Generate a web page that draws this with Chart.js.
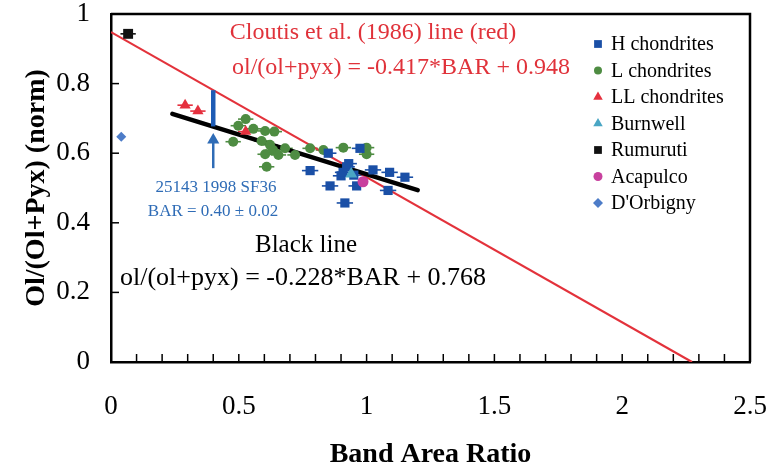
<!DOCTYPE html>
<html>
<head>
<meta charset="utf-8">
<script src="https://cdn.jsdelivr.net/npm/chart.js@4.4.0/dist/chart.umd.min.js"></script>
<style>
  body { margin: 0; background: #fff; }
  #wrap { width: 770px; height: 472px; }
</style>
</head>
<body>
<div id="wrap"><canvas id="grafico"></canvas></div>
<script>
// valores
const hX = [0.779, 0.85, 0.857, 0.90, 0.908, 0.922, 0.93, 0.95, 0.961, 0.974, 0.915, 1.025, 1.09, 1.084, 1.15];
const hY = [0.550, 0.600, 0.506, 0.535, 0.545, 0.561, 0.570, 0.537, 0.506, 0.614, 0.457, 0.552, 0.545, 0.493, 0.531];
const lX = [0.478, 0.498, 0.527, 0.557, 0.589, 0.603, 0.603, 0.609, 0.622, 0.634, 0.639, 0.655, 0.681, 0.72, 0.779, 0.831, 0.909, 1.0, 1.0];
const lY = [0.633, 0.679, 0.698, 0.670, 0.635, 0.664, 0.597, 0.561, 0.624, 0.609, 0.662, 0.595, 0.614, 0.595, 0.614, 0.609, 0.616, 0.616, 0.597];
const llX = [0.29, 0.34, 0.527];
const llY = [0.738, 0.721, 0.662];
const burnwellX = [0.94];
const burnwellY = [0.540];
const rumurutiX = [0.067];
const rumurutiY = [0.943];
const acapulcoX = [0.986];
const acapulcoY = [0.518];
const orbignyX = [0.04];
const orbignyY = [0.647];

const hErr = 0.032, lErr = 0.03, llErr = 0.03, rumErr = 0.03, orbErr = 0.015;

// retas de ajuste (pontas)
const redLineX = [0, 2.273];
const redLineY = [0.948, 0];
const blackLineX = [0.24, 1.2];
const blackLineY = [0.713, 0.494];

// amostra 25143 / 1998 SF36
const segX = [0.40, 0.40];
const segY = [0.677, 0.781];
const arrowX = [0.40, 0.40];
const arrowY = [0.557, 0.632];
const arrowTipX = [0.40];
const arrowTipY = [0.638];

const xTicks = [0, 0.5, 1, 1.5, 2, 2.5];
const xMinor = [0.1,0.2,0.3,0.4,0.5,0.6,0.7,0.8,0.9,1.0,1.1,1.2,1.3,1.4,1.5,1.6,1.7,1.8,1.9,2.0,2.1,2.2,2.3,2.4];
const yMinor = [0.2, 0.4, 0.6, 0.8];

const legendNames = ['H chondrites', 'L chondrites', 'LL chondrites', 'Burnwell', 'Rumuruti', 'Acapulco', "D'Orbigny"];

function pts(xs, ys) {
  return xs.map((x, i) => ({ x: x, y: ys[i] }));
}

function fmt(v) {
  return String(Math.round(v * 10) / 10);
}

const serif = '"Liberation Serif", "Times New Roman", serif';
const blueAnn = '#2f6cb6';

const decor = {
  id: 'decor',
  beforeDatasetsDraw(chart) {
    const ctx = chart.ctx, xs = chart.scales.x, ys = chart.scales.y;
    chart.data.datasets.forEach(ds => {
      if (!ds.errX) return;
      ctx.save();
      ctx.strokeStyle = ds.backgroundColor;
      ctx.lineWidth = 1.6;
      ds.data.forEach(p => {
        const py = ys.getPixelForValue(p.y);
        ctx.beginPath();
        ctx.moveTo(xs.getPixelForValue(p.x - ds.errX), py);
        ctx.lineTo(xs.getPixelForValue(p.x + ds.errX), py);
        ctx.stroke();
      });
      ctx.restore();
    });
  },
  afterDraw(chart) {
    const ctx = chart.ctx, a = chart.chartArea, xs = chart.scales.x, ys = chart.scales.y;
    ctx.save();
    // moldura de cima e da direita
    ctx.strokeStyle = '#000';
    ctx.lineWidth = 2.5;
    ctx.beginPath();
    ctx.moveTo(a.left, a.top);
    ctx.lineTo(a.right, a.top);
    ctx.lineTo(a.right, a.bottom);
    ctx.stroke();
    // ticks para dentro
    ctx.lineWidth = 1.5;
    xMinor.forEach(v => {
      const px = xs.getPixelForValue(v);
      ctx.beginPath();
      ctx.moveTo(px, a.bottom);
      ctx.lineTo(px, a.bottom - 8);
      ctx.stroke();
    });
    yMinor.forEach(v => {
      const py = ys.getPixelForValue(v);
      ctx.beginPath();
      ctx.moveTo(a.left, py);
      ctx.lineTo(a.left + 8, py);
      ctx.stroke();
    });

    // textos
    ctx.textBaseline = 'middle';
    ctx.textAlign = 'center';
    ctx.fillStyle = '#e0323a';
    ctx.font = '24px ' + serif;
    ctx.fillText('Cloutis et al. (1986) line (red)', 373, 33);
    ctx.fillText('ol/(ol+pyx) = -0.417*BAR + 0.948', 401, 68);

    ctx.fillStyle = blueAnn;
    ctx.font = '17px ' + serif;
    ctx.fillText('25143 1998 SF36', 216, 188);
    ctx.fillText('BAR = 0.40 \u00b1 0.02', 213, 212);

    ctx.fillStyle = '#000';
    ctx.font = '25px ' + serif;
    ctx.fillText('Black line', 306, 245);
    ctx.textAlign = 'left';
    ctx.font = '26px ' + serif;
    ctx.fillText('ol/(ol+pyx) = -0.228*BAR + 0.768', 120, 278);

    // legenda
    const sets = chart.data.datasets.filter(d => d.legendIdx !== undefined);
    ctx.font = '20px ' + serif;
    sets.forEach(ds => {
      const y = 44 + ds.legendIdx * 26.5;
      ctx.fillStyle = ds.backgroundColor;
      Chart.helpers.drawPoint(ctx, {
        pointStyle: ds.pointStyle, radius: ds.legendRadius, rotation: 0, borderWidth: 0
      }, 598, y);
      ctx.fillStyle = '#000';
      ctx.fillText(legendNames[ds.legendIdx], 611, y + 1);
    });
    ctx.restore();
  }
};

const ctx = document.getElementById('grafico').getContext('2d');

const chart = new Chart(ctx, {
  type: 'scatter',
  plugins: [decor],
  data: {
    datasets: [
      { label: 'Acapulco', data: pts(acapulcoX, acapulcoY), backgroundColor: '#c8409e', borderWidth: 0,
        pointStyle: 'circle', pointRadius: 5.5, legendIdx: 5, legendRadius: 4.5, order: 1 },
      { label: 'Burnwell', data: pts(burnwellX, burnwellY), backgroundColor: '#4aa6c4', borderWidth: 0,
        pointStyle: 'triangle', pointRadius: 7, legendIdx: 3, legendRadius: 5.5, order: 2 },
      { label: 'LL', data: pts(llX, llY), backgroundColor: '#e5303e', borderWidth: 0, errX: llErr,
        pointStyle: 'triangle', pointRadius: 6.5, legendIdx: 2, legendRadius: 5.5, order: 3 },
      { label: 'H', data: pts(hX, hY), backgroundColor: '#1a4fa6', borderWidth: 0, errX: hErr,
        pointStyle: 'rect', pointRadius: 6.5, legendIdx: 0, legendRadius: 5.5, order: 4 },
      { label: 'L', data: pts(lX, lY), backgroundColor: '#4e8c42', borderWidth: 0, errX: lErr,
        pointStyle: 'circle', pointRadius: 5, legendIdx: 1, legendRadius: 4, order: 5 },
      { label: 'Rumuruti', data: pts(rumurutiX, rumurutiY), backgroundColor: '#111', borderWidth: 0, errX: rumErr,
        pointStyle: 'rect', pointRadius: 7, legendIdx: 4, legendRadius: 5.5, order: 1 },
      { label: "D'Orbigny", data: pts(orbignyX, orbignyY), backgroundColor: '#4d7cc8', borderWidth: 0, errX: orbErr,
        pointStyle: 'rectRot', pointRadius: 5, legendIdx: 6, legendRadius: 5, order: 1 },
      { label: 'seta', data: pts(arrowTipX, arrowTipY), backgroundColor: blueAnn, borderWidth: 0,
        pointStyle: 'triangle', pointRadius: 7, order: 6 },
      { label: 'haste', data: pts(arrowX, arrowY), showLine: true, borderColor: blueAnn, borderWidth: 2.5,
        pointRadius: 0, order: 7 },
      { label: 'segmento', data: pts(segX, segY), showLine: true, borderColor: '#1e5cb5', borderWidth: 4.5,
        pointRadius: 0, order: 8 },
      { label: 'preta', data: pts(blackLineX, blackLineY), showLine: true, borderColor: '#000', borderWidth: 4.5,
        pointRadius: 0, order: 9, borderCapStyle: 'round' },
      { label: 'vermelha', data: pts(redLineX, redLineY), showLine: true, borderColor: '#e3323b', borderWidth: 2.2,
        pointRadius: 0, order: 10 }
    ]
  },
  options: {
    responsive: true,
    maintainAspectRatio: false,
    animation: false,
    layout: { padding: { top: 14, right: 20, bottom: 0, left: 0 } },
    plugins: {
      legend: { display: false },
      tooltip: { enabled: false }
    },
    scales: {
      x: {
        type: 'linear', min: 0, max: 2.5,
        afterBuildTicks(scale) { scale.ticks = xTicks.map(v => ({ value: v })); },
        afterFit(scale) {
          scale.height = 110;
          scale.paddingLeft = 0;
          scale.paddingRight = 0;
        },
        ticks: { color: '#000', padding: 31, callback: fmt, font: { family: serif, size: 27, lineHeight: 1 } },
        grid: { display: false, drawTicks: false },
        border: { display: true, color: '#000', width: 2.5 },
        title: { display: true, text: 'Band Area Ratio', color: '#000', padding: { top: 0, bottom: 0 },
          font: { family: serif, size: 28, weight: 'bold' } }
      },
      y: {
        type: 'linear', min: 0, max: 1,
        ticks: { stepSize: 0.2, color: '#000', padding: 21, callback: fmt, font: { family: serif, size: 27, lineHeight: 1 } },
        afterFit(scale) {
          scale.width = 111;
          scale.paddingTop = 0;
          scale.paddingBottom = 0;
        },
        grid: { display: false, drawTicks: false },
        border: { display: true, color: '#000', width: 2.5 },
        title: { display: true, text: 'Ol/(Ol+Pyx) (norm)', color: '#000', padding: { top: 20, bottom: 0 },
          font: { family: serif, size: 28, weight: 'bold' } }
      }
    }
  }
});
</script>
</body>
</html>
